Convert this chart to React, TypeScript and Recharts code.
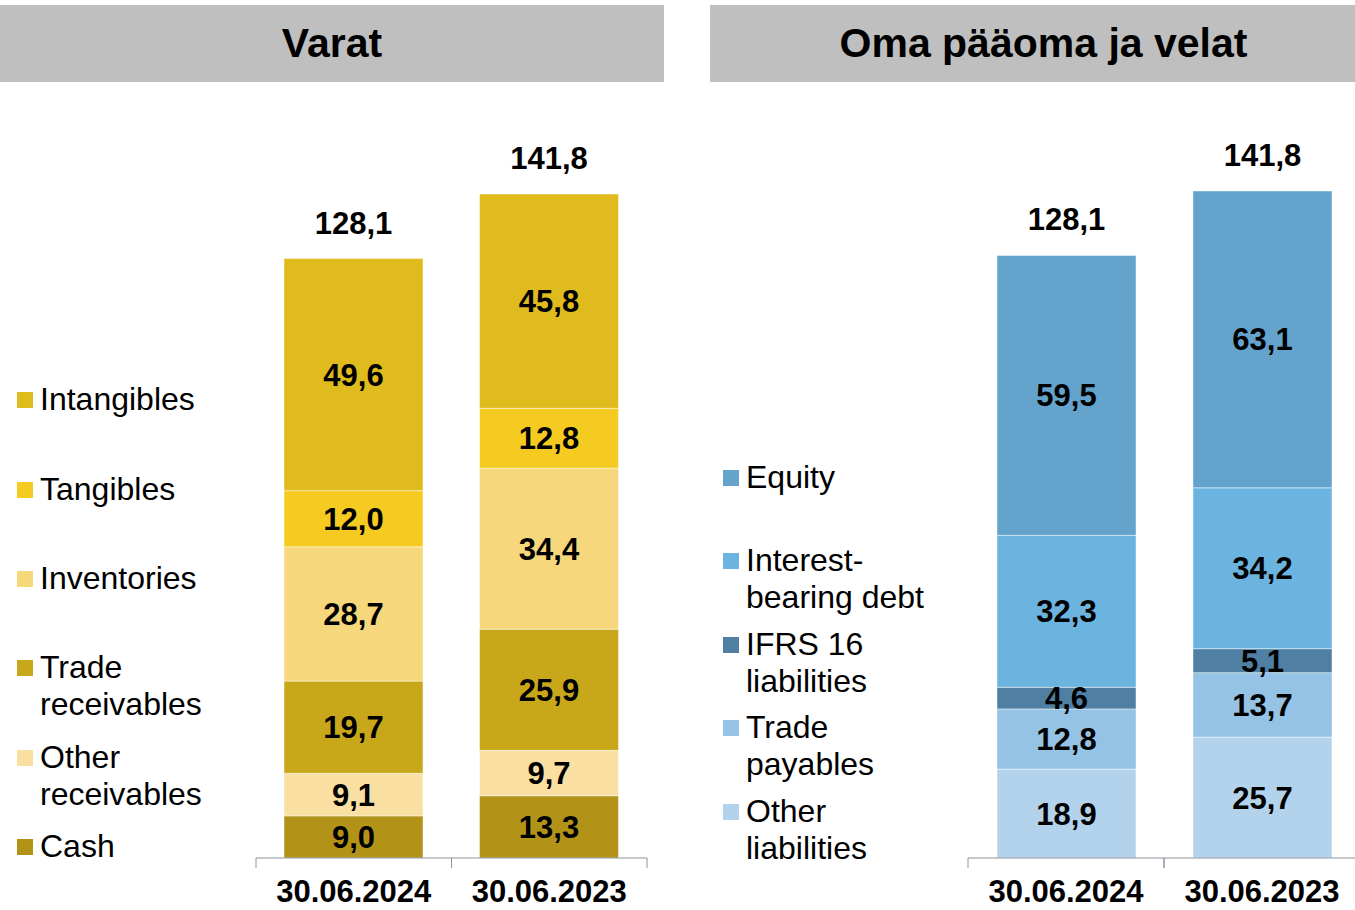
import React from 'react';
import { BarChart, Bar, XAxis, YAxis, LabelList } from 'recharts';

const dates = ['30.06.2024', '30.06.2023'];

// Varat
const cash = [9.0, 13.3];
const otherReceivables = [9.1, 9.7];
const tradeReceivables = [19.7, 25.9];
const inventories = [28.7, 34.4];
const tangibles = [12.0, 12.8];
const intangibles = [49.6, 45.8];
const assetTotals = [128.1, 141.8];

// Oma pääoma ja velat
const otherLiabilities = [18.9, 25.7];
const tradePayables = [12.8, 13.7];
const ifrs16 = [4.6, 5.1];
const interestDebt = [32.3, 34.2];
const equity = [59.5, 63.1];
const liabTotals = [128.1, 141.8];

const FONT = '"Liberation Sans", Arial, sans-serif';

const fmt = (v: any) => Number(v).toFixed(1).replace('.', ',');

const assetData = dates.map((d, i) => ({
  date: d,
  cash: cash[i],
  otherReceivables: otherReceivables[i],
  tradeReceivables: tradeReceivables[i],
  inventories: inventories[i],
  tangibles: tangibles[i],
  intangibles: intangibles[i],
  total: assetTotals[i],
}));

const liabData = dates.map((d, i) => ({
  date: d,
  otherLiabilities: otherLiabilities[i],
  tradePayables: tradePayables[i],
  ifrs16: ifrs16[i],
  interestDebt: interestDebt[i],
  equity: equity[i],
  total: liabTotals[i],
}));

const assetSeries = [
  { key: 'cash', name: 'Cash', color: '#B39317' },
  { key: 'otherReceivables', name: 'Other\nreceivables', color: '#FADFA2' },
  { key: 'tradeReceivables', name: 'Trade\nreceivables', color: '#C9A71B' },
  { key: 'inventories', name: 'Inventories', color: '#F7D77B' },
  { key: 'tangibles', name: 'Tangibles', color: '#F5CB22' },
  { key: 'intangibles', name: 'Intangibles', color: '#E0BB1E' },
];

const liabSeries = [
  { key: 'otherLiabilities', name: 'Other\nliabilities', color: '#B3D3ED' },
  { key: 'tradePayables', name: 'Trade\npayables', color: '#94C3E6' },
  { key: 'ifrs16', name: 'IFRS 16\nliabilities', color: '#4F80A3' },
  { key: 'interestDebt', name: 'Interest-\nbearing debt', color: '#6CB4E0' },
  { key: 'equity', name: 'Equity', color: '#63A3CC' },
];

// legend text centre (first line) per item, top to bottom
const assetLegendY = [399, 489, 578, 667, 757, 846];
const liabLegendY = [477, 560, 644, 727, 811];

function makeTick(band: number) {
  return (props: any) => {
    const { x, y, payload } = props;
    return (
      <g>
        <line x1={x - band / 2} y1={y - 8} x2={x - band / 2} y2={y + 2} stroke="#8E949B" />
        <line x1={x + band / 2} y1={y - 8} x2={x + band / 2} y2={y + 2} stroke="#8E949B" />
        <text x={x} y={y + 36} textAnchor="middle" fontFamily={FONT} fontWeight="bold" fontSize={31} fill="#000">
          {payload.value}
        </text>
      </g>
    );
  };
}

const totalLabel = (props: any) => {
  const { x, y, width, value } = props;
  return (
    <text x={x + width / 2} y={y - 25} textAnchor="middle" fontFamily={FONT} fontWeight="bold" fontSize={31} fill="#000">
      {fmt(value)}
    </text>
  );
};

function Legend({ series, ys, left }: { series: any[]; ys: number[]; left: number }) {
  const items = [...series].reverse();
  return (
    <>
      {items.map((s, i) => (
        <div key={s.key} style={{ position: 'absolute', left, top: ys[i] - 18, fontFamily: FONT, fontSize: 32, lineHeight: '37px', color: '#000' }}>
          <div style={{ position: 'absolute', left: 0, top: 11, width: 16, height: 16, background: s.color }} />
          <div style={{ marginLeft: 23, whiteSpace: 'pre' }}>{s.name}</div>
        </div>
      ))}
    </>
  );
}

function Panel({ data, series, max, top, width, marginLeft, marginRight }: any) {
  const height = 910;
  const bottom = 12;
  const axisH = 40;
  const band = (width - marginLeft - marginRight) / 2;
  return (
    <BarChart
      width={width}
      height={height}
      data={data}
      margin={{ top, right: marginRight, left: marginLeft, bottom }}
      barSize={139}
    >
      <XAxis
        dataKey="date"
        height={axisH}
        tickLine={false}
        axisLine={{ stroke: '#8E949B' }}
        tick={makeTick(band)}
        interval={0}
      />
      <YAxis hide domain={[0, max]} width={0} />
      {series.map((s: any, i: number) => (
        <Bar
          key={s.key}
          dataKey={s.key}
          stackId="a"
          fill={s.color}
          stroke="rgba(255,255,255,0.45)"
          strokeWidth={1}
          isAnimationActive={false}
        >
          <LabelList
            dataKey={s.key}
            position="center"
            formatter={fmt}
            style={{ fontFamily: FONT, fontWeight: 'bold', fontSize: 31, fill: '#000' }}
          />
          {i === series.length - 1 && <LabelList dataKey="total" content={totalLabel} />}
        </Bar>
      ))}
    </BarChart>
  );
}

export default function App() {
  return (
    <div style={{ position: 'absolute', left: 0, top: 0, width: 1355, height: 910, overflow: 'hidden', background: '#fff' }}>
      <div style={{ position: 'absolute', left: 0, top: 5, width: 664, height: 77, background: '#BFBFBF', fontFamily: FONT, fontWeight: 'bold', fontSize: 41, lineHeight: '77px', textAlign: 'center' }}>
        Varat
      </div>
      <div style={{ position: 'absolute', left: 710, top: 5, width: 645, height: 77, background: '#BFBFBF', fontFamily: FONT, fontWeight: 'bold', fontSize: 41, lineHeight: '77px', textAlign: 'center', paddingLeft: 22, boxSizing: 'border-box' }}>
        Oma pääoma ja velat
      </div>

      <div style={{ position: 'absolute', left: 0, top: 0 }}>
        <Panel data={assetData} series={assetSeries} max={141.8} top={194} width={664} marginLeft={256} marginRight={17} />
      </div>
      <div style={{ position: 'absolute', left: 710, top: 0 }}>
        <Panel data={liabData} series={liabSeries} max={141.8} top={191} width={650} marginLeft={258} marginRight={0} />
      </div>

      <Legend series={assetSeries} ys={assetLegendY} left={17} />
      <Legend series={liabSeries} ys={liabLegendY} left={723} />
    </div>
  );
}
